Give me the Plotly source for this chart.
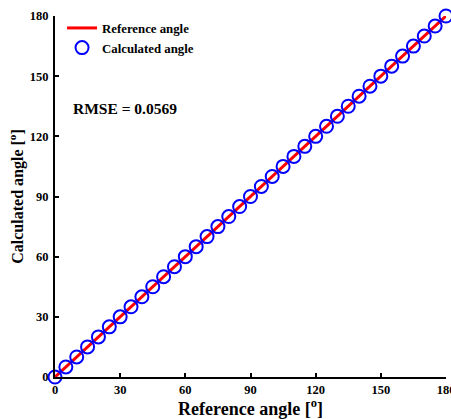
import plotly.graph_objects as go

reference_angle = [0, 5, 10, 15, 20, 25, 30, 35, 40, 45, 50, 55, 60, 65, 70, 75, 80, 85, 90,
                   95, 100, 105, 110, 115, 120, 125, 130, 135, 140, 145, 150, 155, 160, 165,
                   170, 175, 180]
calculated_angle = [0, 5, 10, 15, 20, 25, 30, 35, 40, 45, 50, 55, 60, 65, 70, 75, 80, 85, 90,
                    95, 100, 105, 110, 115, 120, 125, 130, 135, 140, 145, 150, 155, 160, 165,
                    170, 175, 180]
tick_vals = [0, 30, 60, 90, 120, 150, 180]
rmse_text = "RMSE = 0.0569"

FONT = "Liberation Serif"

fig = go.Figure()
fig.add_trace(go.Scatter(x=reference_angle, y=reference_angle, mode="lines",
                         line=dict(color="#ff0000", width=3),
                         name="<b>Reference angle</b>", cliponaxis=False))
fig.add_trace(go.Scatter(x=reference_angle, y=calculated_angle, mode="markers",
                         marker=dict(symbol="circle-open", size=13,
                                     line=dict(color="#0000ff", width=2), color="#0000ff"),
                         name="<b>Calculated angle</b>", cliponaxis=False))

axis_common = dict(range=[0, 180], tickvals=tick_vals, ticks="inside", ticklen=4,
                   tickwidth=2, tickcolor="black", showline=True, linecolor="black",
                   linewidth=2, showgrid=False, zeroline=False, automargin=False,
                   ticklabeloverflow="allow",
                   tickfont=dict(family=FONT, size=12.5, color="black", weight="bold"))

fig.update_layout(
    width=451, height=419,
    margin=dict(l=55, r=5, t=16, b=42),
    plot_bgcolor="white", paper_bgcolor="white",
    font=dict(family=FONT, color="black"),
    xaxis=dict(**axis_common,
               title=dict(text="<b>Reference angle [<sup>o</sup>]</b>",
                          font=dict(family=FONT, size=18), standoff=8)),
    yaxis=dict(**axis_common,
               title=dict(text="<b>Calculated angle [<sup>o</sup>]</b>",
                          font=dict(family=FONT, size=16), standoff=2)),
    legend=dict(x=0.018, y=1.008, xanchor="left", yanchor="top",
                bgcolor="rgba(0,0,0,0)", font=dict(family=FONT, size=12.8, color="black"),
                itemwidth=30, tracegroupgap=0),
    showlegend=True,
)
fig.update_yaxes(ticklabelstandoff=2)
fig.add_annotation(x=0.04, y=0.745, xref="paper", yref="paper", xanchor="left",
                   yanchor="middle", showarrow=False,
                   text="<b>" + rmse_text + "</b>",
                   font=dict(family=FONT, size=15.5, color="black"))

fig.write_html("out.html")
